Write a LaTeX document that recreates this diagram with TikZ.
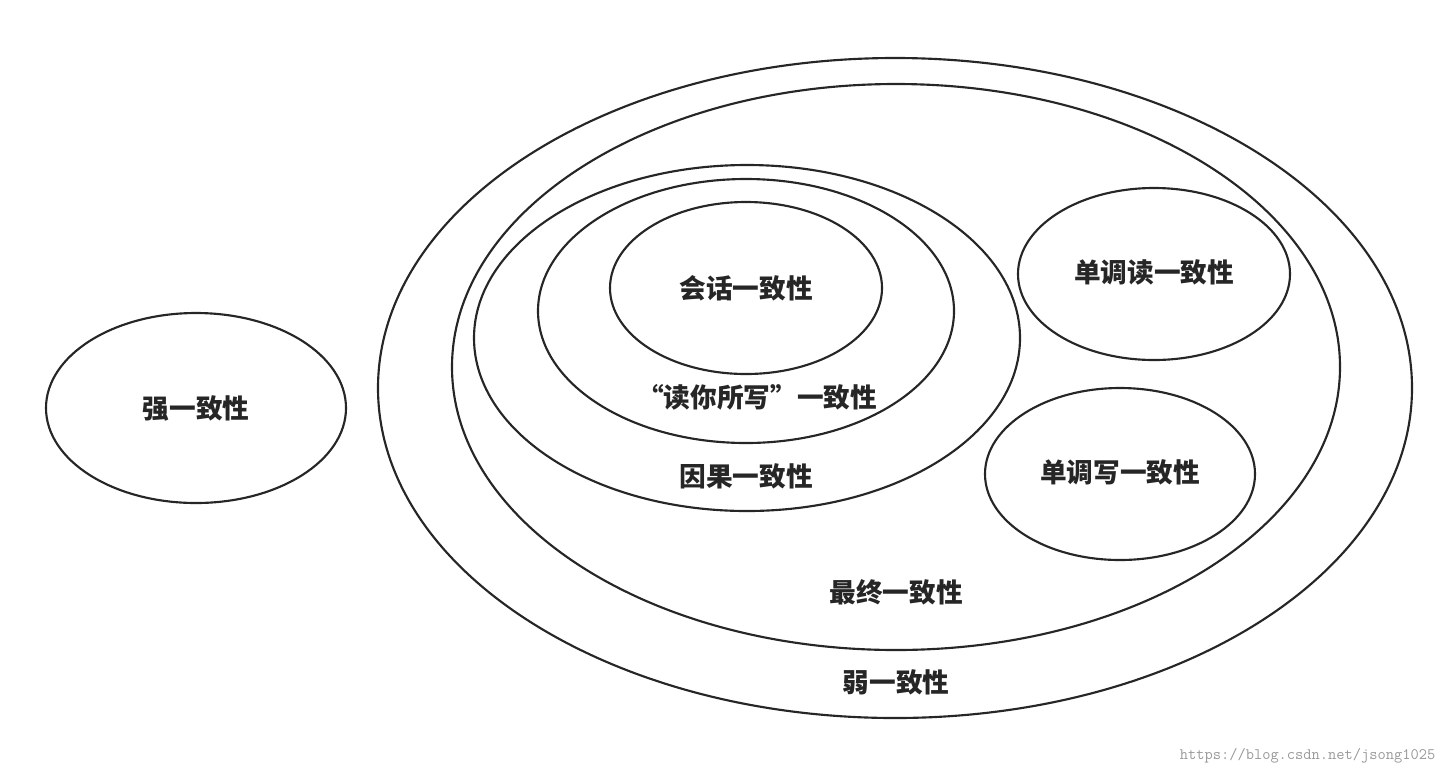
\documentclass[tikz,border=0pt]{standalone}
\usepackage{fontspec}
\newfontfamily\cjk{Noto Sans CJK SC}
\begin{document}
\begin{tikzpicture}[x=0.75pt,y=-0.75pt,
  ring/.style={draw=black!85,line width=1.6pt},
  lab/.style={font=\cjk\bfseries\fontsize{20}{20}\selectfont,text=black!85}]
\useasboundingbox (0,0) rectangle (1448,776);
\draw[ring] (895,388) ellipse [x radius=517,y radius=330];
\draw[ring] (896,367) ellipse [x radius=444,y radius=283];
\draw[ring] (747,338) ellipse [x radius=273,y radius=173];
\draw[ring] (746,311) ellipse [x radius=208,y radius=132];
\draw[ring] (746,288) ellipse [x radius=136,y radius=86];
\draw[ring] (1154,274) ellipse [x radius=136,y radius=86];
\draw[ring] (1120,474) ellipse [x radius=135,y radius=86];
\draw[ring] (196,408) ellipse [x radius=150,y radius=95];
\node[lab] (strong) at (196,408) {强一致性};
\node[lab] (session) at (746,288) {会话一致性};
\node[lab] (ryw) at (757,397) {“读你所写”一致性};
\node[lab] (causal) at (746,476) {因果一致性};
\node[lab] (mr) at (1154,272) {单调读一致性};
\node[lab] (mw) at (1120,472) {单调写一致性};
\node[lab] (eventual) at (896,592) {最终一致性};
\node[lab] (weak) at (896,682) {弱一致性};
\node[font=\ttfamily\fontsize{12}{12}\selectfont,text=black!40,anchor=east] (wm) at (1440,756) {https://blog.csdn.net/jsong1025};
\end{tikzpicture}
\end{document}
